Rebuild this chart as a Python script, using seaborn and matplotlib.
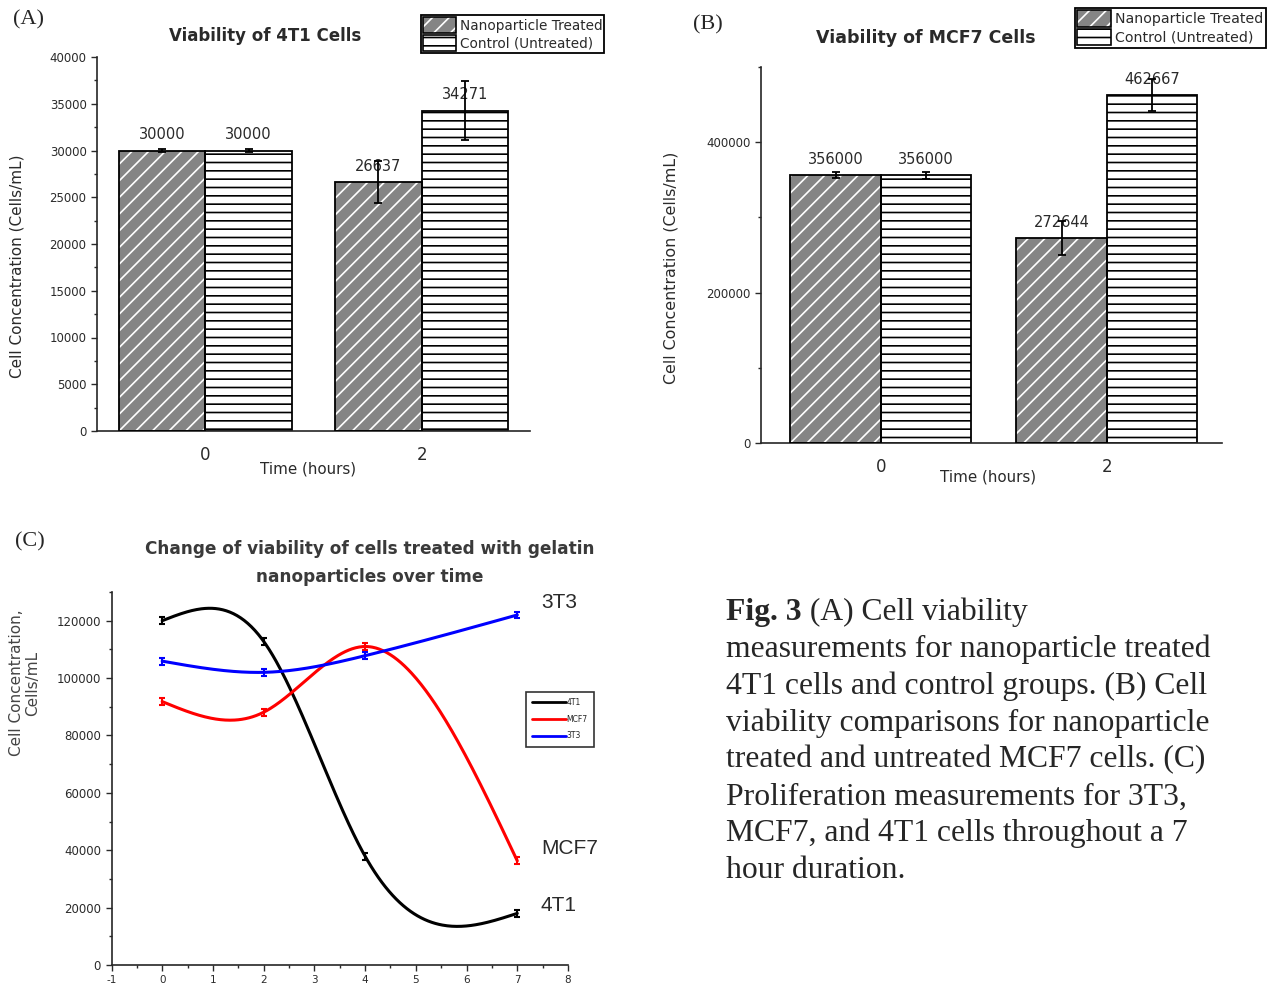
import numpy as np
import pandas as pd
import matplotlib
matplotlib.use('Agg')
import matplotlib.pyplot as plt
from matplotlib.patches import Rectangle, Patch
from matplotlib.lines import Line2D
from matplotlib.ticker import MultipleLocator
import seaborn as sns

# panel A: 4T1 viability (cells/mL)
times_ab = ['0', '2']
groups = ['Nanoparticle Treated', 'Control (Untreated)']
t4_treated = [30000, 26637]
t4_control = [30000, 34271]
t4_treated_err = [200, 2200]
t4_control_err = [200, 3200]

# panel B: MCF7 viability
mcf_treated = [356000, 272644]
mcf_control = [356000, 462667]
mcf_treated_err = [4000, 23000]
mcf_control_err = [5000, 21000]

# panel C: proliferation over 7 hours
hours = [0, 2, 4, 7]
c_4t1 = [120000, 112800, 37900, 18000]
c_mcf7 = [91800, 88100, 111000, 36300]
c_3t3 = [105900, 102000, 107800, 122000]
c_err = [1200, 1200, 1200, 1200]
line_names = ['4T1', 'MCF7', '3T3']
line_colors = {'4T1': 'black', 'MCF7': '#ff0000', '3T3': '#0000ff'}

caption = ['measurements for nanoparticle treated',
           '4T1 cells and control groups. (B) Cell',
           'viability comparisons for nanoparticle',
           'treated and untreated MCF7 cells. (C)',
           'Proliferation measurements for 3T3,',
           'MCF7, and 4T1 cells throughout a 7',
           'hour duration.']

W, H = 1288, 989
TXT = '#2a2a2a'


def natural_spline(x, y, n=300):
    # smooth connection like Origin's spline line
    x = np.asarray(x, float)
    y = np.asarray(y, float)
    h = np.diff(x)
    k = len(x)
    A = np.zeros((k, k))
    b = np.zeros(k)
    A[0, 0] = A[-1, -1] = 1
    for i in range(1, k - 1):
        A[i, i - 1] = h[i - 1]
        A[i, i] = 2 * (h[i - 1] + h[i])
        A[i, i + 1] = h[i]
        b[i] = 6 * ((y[i + 1] - y[i]) / h[i] - (y[i] - y[i - 1]) / h[i - 1])
    m = np.linalg.solve(A, b)
    xs = np.linspace(x[0], x[-1], n)
    j = np.clip(np.searchsorted(x, xs) - 1, 0, k - 2)
    a = x[j + 1] - xs
    c = xs - x[j]
    hh = h[j]
    ys = (m[j] * a ** 3 + m[j + 1] * c ** 3) / (6 * hh) \
        + (y[j] / hh - m[j] * hh / 6) * a + (y[j + 1] / hh - m[j + 1] * hh / 6) * c
    return xs, ys


def fig_ax(left, top, right, bottom):
    # pixel box -> figure axes
    return fig.add_axes([left / W, 1 - bottom / H, (right - left) / W, (bottom - top) / H])


def style_axes(ax):
    sns.despine(ax=ax)
    for s in ['left', 'bottom']:
        ax.spines[s].set_linewidth(1.2)
    ax.tick_params(which='both', direction='out', width=1.0, colors=TXT)
    ax.tick_params(which='major', length=4)
    ax.tick_params(which='minor', length=2.5)


def bar_panel(ax, treated, control, t_err, c_err, ylab_fs):
    df = pd.DataFrame({'time': times_ab * 2,
                       'group': [groups[0]] * 2 + [groups[1]] * 2,
                       'value': treated + control})
    sns.barplot(data=df, x='time', y='value', hue='group', hue_order=groups,
                palette=['#858585', 'white'], saturation=1, width=0.8,
                errorbar=None, legend=False, ax=ax)
    bars_t, bars_c = ax.containers[0], ax.containers[1]
    for bar in bars_t:
        bar.set_hatch('//')
        bar.set_edgecolor('white')
        bar.set_linewidth(0)
        ax.add_patch(Rectangle(bar.get_xy(), bar.get_width(), bar.get_height(),
                               fill=False, ec='black', lw=1.3, zorder=3))
    for bar in bars_c:
        bar.set_hatch('--')
        bar.set_edgecolor('black')
        bar.set_linewidth(1.3)
    for cont, vals, errs in [(bars_t, treated, t_err), (bars_c, control, c_err)]:
        xs = [b.get_x() + b.get_width() / 2 for b in cont]
        ax.errorbar(xs, vals, yerr=errs, fmt='none', ecolor='black',
                    elinewidth=1.3, capsize=3, capthick=1.3, zorder=4)
        ax.bar_label(cont, labels=[str(v) for v in vals], padding=6,
                     fontsize=10.5, color=TXT)
    style_axes(ax)
    ax.tick_params(axis='x', length=0, labelsize=12, pad=11)
    ax.tick_params(axis='y', labelsize=8.5)
    ax.set_xlabel('Time (hours)', fontsize=10.9, color=TXT)
    ax.set_ylabel('Cell Concentration (Cells/mL)', fontsize=ylab_fs, color=TXT)


def bar_legend(x, y, fs):
    h_t = (Patch(facecolor='#858585', hatch='//', edgecolor='white', lw=0),
           Patch(fill=False, edgecolor='black', lw=1.2))
    h_c = Patch(facecolor='white', hatch='--', edgecolor='black', lw=1.2)
    leg = fig.legend([h_t, h_c], groups, loc='upper left',
                     bbox_to_anchor=(x / W, 1 - y / H), fontsize=fs,
                     frameon=True, fancybox=False, edgecolor='black', framealpha=1,
                     handlelength=2.4, handleheight=1.45, borderpad=0.15,
                     labelspacing=0.12, handletextpad=0.3, borderaxespad=0)
    leg.get_frame().set_linewidth(1.3)
    for t in leg.get_texts():
        t.set_color(TXT)


sns.set_style('ticks')
plt.rcParams['font.family'] = ['DejaVu Sans']
plt.rcParams['hatch.linewidth'] = 1.2
plt.rcParams['axes.unicode_minus'] = False

fig = plt.figure(figsize=(W / 100, H / 100), dpi=100)

# ---- panel A
axA = fig_ax(97, 57, 530, 431)
bar_panel(axA, t4_treated, t4_control, t4_treated_err, t4_control_err, 11)
axA.set_xlim(-0.5, 1.5)
axA.set_ylim(0, 40000)
axA.yaxis.set_major_locator(MultipleLocator(5000))
axA.yaxis.set_minor_locator(MultipleLocator(2500))
axA.xaxis.set_label_coords((308 - 97) / 433, -(461 - 431) / 374)
axA.yaxis.set_label_coords((25 - 97) / 433, (431 - 266) / 374)
fig.text(265 / W, 1 - 36 / H, 'Viability of 4T1 Cells', ha='center', va='center',
         fontsize=12, fontweight='bold', color=TXT)
bar_legend(421, 15, 9.8)

# ---- panel B
axB = fig_ax(761, 67, 1222, 443)
bar_panel(axB, mcf_treated, mcf_control, mcf_treated_err, mcf_control_err, 11.4)
axB.set_xlim(-0.53, 1.51)
axB.set_ylim(0, 500000)
axB.set_yticks([0, 200000, 400000])
axB.yaxis.set_minor_locator(MultipleLocator(100000))
axB.xaxis.set_label_coords((988 - 761) / 461, -(470 - 443) / 376)
axB.yaxis.set_label_coords((679 - 761) / 461, (443 - 268) / 376)
fig.text(926 / W, 1 - 38 / H, 'Viability of MCF7 Cells', ha='center', va='center',
         fontsize=12.5, fontweight='bold', color=TXT)
bar_legend(1075, 8, 10.2)

# ---- panel C
axC = fig_ax(111.5, 592, 568, 965)
curves = []
for name, vals in zip(line_names, [c_4t1, c_mcf7, c_3t3]):
    xs, ys = natural_spline(hours, vals)
    curves.append(pd.DataFrame({'hour': xs, 'conc': ys, 'line': name}))
curve_df = pd.concat(curves, ignore_index=True)
sns.lineplot(data=curve_df, x='hour', y='conc', hue='line', hue_order=line_names,
             palette=line_colors, linewidth=2.2, sort=False, estimator=None,
             legend=False, ax=axC)
for name, vals in zip(line_names, [c_4t1, c_mcf7, c_3t3]):
    axC.errorbar(hours, vals, yerr=c_err, fmt='none', ecolor=line_colors[name],
                 elinewidth=1.5, capsize=2.5, capthick=1.5)
    axC.annotate(name, (hours[-1], vals[-1]), xytext=(17, 9 if name != '4T1' else 6),
                 textcoords='offset points', ha='left', va='center', fontsize=15,
                 family='Liberation Sans', color=TXT)
style_axes(axC)
axC.set_xlim(-1, 8)
axC.set_ylim(0, 130000)
axC.set_yticks(np.arange(0, 120001, 20000))
axC.yaxis.set_minor_locator(MultipleLocator(10000))
axC.set_xticks(np.arange(-1, 9))
axC.xaxis.set_minor_locator(MultipleLocator(0.5))
axC.tick_params(axis='y', labelsize=8.5)
axC.tick_params(axis='x', labelsize=7.5)
axC.set_xlabel('')
axC.set_ylabel('Cell Concentration,\nCells/mL', fontsize=11, color='#444',
               linespacing=1.05)
axC.yaxis.set_label_coords((40 - 111.5) / 456.5, (965 - 683) / 373)
fig.text(370 / W, 1 - 563 / H,
         'Change of viability of cells treated with gelatin\nnanoparticles over time',
         ha='center', va='center', fontsize=12.2, fontweight='bold', color='#3a3a3a',
         linespacing=1.65)
legC = fig.legend([Line2D([], [], color=line_colors[n], lw=2) for n in line_names],
                  line_names, loc='upper left', bbox_to_anchor=(526 / W, 1 - 692 / H),
                  fontsize=5.5, frameon=True, fancybox=False, edgecolor='#333',
                  framealpha=1, handlelength=4.5, handletextpad=0.0,
                  labelspacing=1.0, borderpad=0.8, borderaxespad=0)
legC.get_frame().set_linewidth(1.2)

# panel letters
for lbl, px, py in [('(A)', 28, 20), ('(B)', 708, 25), ('(C)', 30, 542)]:
    fig.text(px / W, 1 - py / H, lbl, ha='center', va='center', fontsize=16,
             family='Liberation Serif')

# caption text
renderer = fig.canvas.get_renderer()
x0 = 726
fs_cap = 22.8
bold = fig.text(x0 / W, 1 - 620 / H, 'Fig. 3', fontsize=fs_cap, fontweight='bold',
                family='Liberation Serif', va='baseline')
bw = bold.get_window_extent(renderer).width
fig.text((x0 + bw) / W, 1 - 620 / H, ' (A) Cell viability', fontsize=fs_cap,
         family='Liberation Serif', va='baseline')
for i, line in enumerate(caption):
    fig.text(x0 / W, 1 - (620 + 36.9 * (i + 1)) / H, line, fontsize=fs_cap,
             family='Liberation Serif', va='baseline')

fig.savefig('out.png', dpi=100)
